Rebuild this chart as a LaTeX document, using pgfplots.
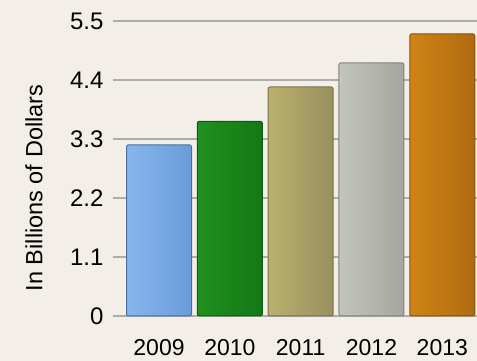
\documentclass[border=0pt]{standalone}
\usepackage{pgfplots}
\pgfplotsset{compat=1.18}
\usepackage{fontspec}
\setmainfont{Liberation Sans}
\definecolor{bg}{HTML}{F3EFE8}
\definecolor{gridc}{HTML}{ADACA8}
\begin{document}
\begin{tikzpicture}[x=1pt,y=1pt]
\fill[bg] (0,0) rectangle (477,361);
\path[use as bounding box] (0,0) rectangle (477,361);
\begin{axis}[
  at={(113pt,45pt)}, anchor=south west,
  scale only axis, width=364pt, height=295pt,
  xmin=-0.65, xmax=4.49, ymin=0, ymax=5.5,
  clip=false,
  axis line style={draw=none},
  major tick length=0pt,
  ytick={0,1.1,2.2,3.3,4.4,5.5},
  yticklabels={0,1.1,2.2,3.3,4.4,5.5},
  xtick={0,1,2,3,4},
  xticklabels={2009,2010,2011,2012,2013},
  ymajorgrids,
  grid style={gridc, line width=2pt},
  /pgf/number format/assume math mode=true,
  yticklabel style={font=\fontsize{24}{28}\selectfont, xshift=-6pt},
  xticklabel style={font=\fontsize{23}{27}\selectfont, yshift=-20pt},
  ylabel={In Billions of Dollars},
  ylabel style={font=\fontsize{23.5}{27}\selectfont, at={(axis description cs:-0.217,0.434)}, anchor=center, rotate=0},
  every axis plot/.append style={ybar, bar width=65pt, bar shift=0pt, rounded corners=2pt, line width=1pt},
]
\addplot[draw={rgb,255:red,74;green,111;blue,160}, left color={rgb,255:red,134;green,182;blue,236}, right color={rgb,255:red,106;green,156;blue,218}] coordinates {(0,3.19)};
\addplot[draw={rgb,255:red,14;green,90;blue,14}, left color={rgb,255:red,32;green,144;blue,32}, right color={rgb,255:red,20;green,120;blue,20}] coordinates {(1,3.63)};
\addplot[draw={rgb,255:red,122;green,114;blue,80}, left color={rgb,255:red,186;green,176;blue,108}, right color={rgb,255:red,154;green,144;blue,96}] coordinates {(2,4.27)};
\addplot[draw={rgb,255:red,130;green,130;blue,126}, left color={rgb,255:red,194;green,196;blue,190}, right color={rgb,255:red,166;green,166;blue,160}] coordinates {(3,4.72)};
\addplot[draw={rgb,255:red,138;green,82;blue,8}, left color={rgb,255:red,208;green,132;blue,22}, right color={rgb,255:red,176;green,106;blue,16}] coordinates {(4,5.26)};
\end{axis}
\end{tikzpicture}
\end{document}
